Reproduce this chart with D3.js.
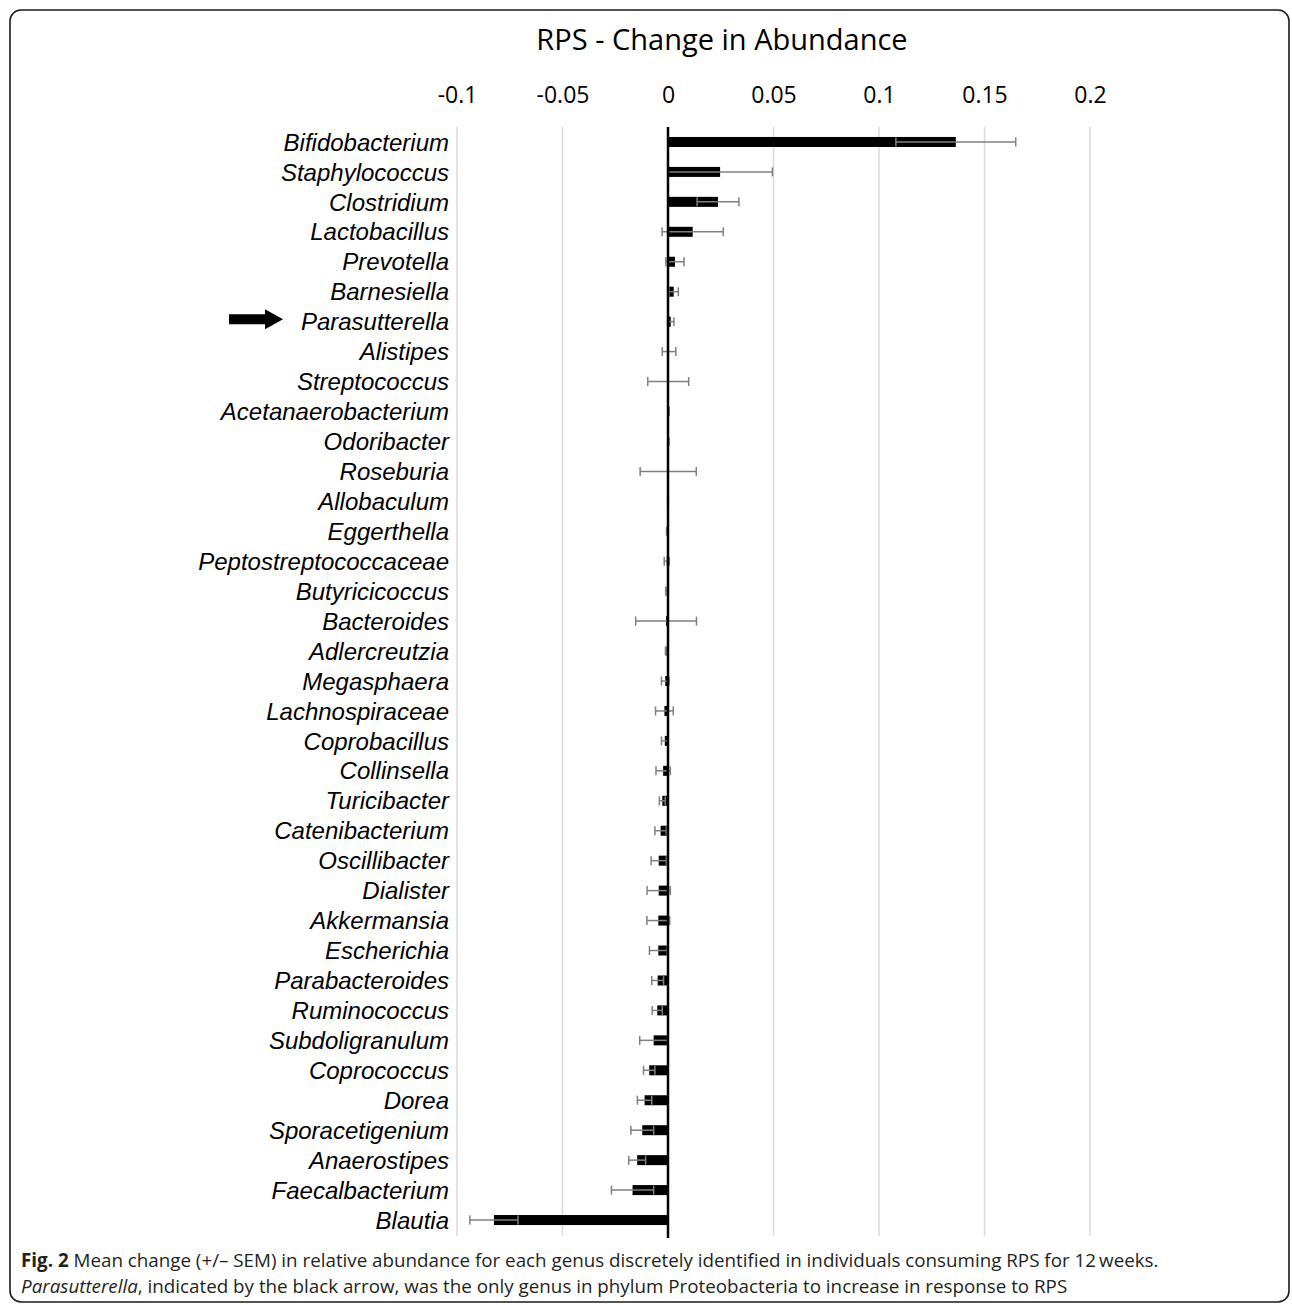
<!DOCTYPE html>
<html>
<head>
<meta charset="utf-8">
<script src="https://cdn.jsdelivr.net/npm/d3@7"></script>
<style>
  html, body { margin: 0; padding: 0; background: #fff; }
  svg { display: block; }
</style>
</head>
<body>
<script>
const genera = ["Bifidobacterium","Staphylococcus","Clostridium","Lactobacillus","Prevotella","Barnesiella","Parasutterella","Alistipes","Streptococcus","Acetanaerobacterium","Odoribacter","Roseburia","Allobaculum","Eggerthella","Peptostreptococcaceae","Butyricicoccus","Bacteroides","Adlercreutzia","Megasphaera","Lachnospiraceae","Coprobacillus","Collinsella","Turicibacter","Catenibacterium","Oscillibacter","Dialister","Akkermansia","Escherichia","Parabacteroides","Ruminococcus","Subdoligranulum","Coprococcus","Dorea","Sporacetigenium","Anaerostipes","Faecalbacterium","Blautia"];
const meanChange = [0.1364,0.0247,0.0237,0.0117,0.0033,0.0027,0.0013,0.0005,0.0001,0.0003,0.0002,0.0001,0.0000,-0.0003,-0.0006,-0.0006,-0.0009,-0.0007,-0.0013,-0.0017,-0.0015,-0.0023,-0.0027,-0.0035,-0.0044,-0.0044,-0.0046,-0.0046,-0.0049,-0.0051,-0.0068,-0.0089,-0.0111,-0.0122,-0.0146,-0.0168,-0.0825];
const sem = [0.0284,0.0248,0.0099,0.0145,0.0043,0.0022,0.0015,0.0032,0.0097,0.0003,0.0003,0.0133,0.0002,0.0004,0.0012,0.0005,0.0144,0.0005,0.0018,0.0042,0.0016,0.0034,0.0014,0.0027,0.0036,0.0055,0.0054,0.0042,0.0028,0.0024,0.0066,0.0027,0.0034,0.0054,0.0040,0.0100,0.0114];
const tickValues = [-0.1,-0.05,0,0.05,0.1,0.15,0.2];
const tickLabels = ["-0.1","-0.05","0","0.05","0.1","0.15","0.2"];
const chartTitle = "RPS - Change in Abundance";
const highlighted = "Parasutterella";

const W = 1292, H = 1305;
const svg = d3.select("body").append("svg").attr("width", W).attr("height", H);

// frame
svg.append("rect").attr("x", 10).attr("y", 10).attr("width", 1279).attr("height", 1292)
  .attr("rx", 11).attr("ry", 11).attr("fill", "none").attr("stroke", "#1a1a1a").attr("stroke-width", 1.6);

const x = d3.scaleLinear().domain([-0.1, 0.2]).range([457, 1090]);
const y = d3.scalePoint().domain(genera).range([127, 1235]).padding(0.5);
const barH = 10;

// gridlines
svg.append("g").selectAll("line").data(tickValues.filter(v => v !== 0)).join("line")
  .attr("x1", d => x(d)).attr("x2", d => x(d)).attr("y1", 127).attr("y2", 1236)
  .attr("stroke", "#d9d9d9").attr("stroke-width", 1.5);

// title
svg.append("text").attr("x", 722).attr("y", 50).attr("text-anchor", "middle")
  .attr("font-family", "'Open Sans', sans-serif").attr("font-size", 29).attr("fill", "#000")
  .text(chartTitle);

// top axis tick labels
const axis = d3.axisTop(x).tickValues(tickValues).tickSize(0).tickPadding(0)
  .tickFormat((d, i) => tickLabels[i]);
const ag = svg.append("g").attr("transform", "translate(0,103)").call(axis);
ag.select(".domain").remove();
ag.selectAll("text").attr("font-family", "'Open Sans', sans-serif").attr("font-size", 23).attr("fill", "#000");

// bars
const data = genera.map((g, i) => ({ g, m: meanChange[i], s: sem[i] }));
svg.append("g").selectAll("rect").data(data).join("rect")
  .attr("x", d => Math.min(x(0), x(d.m)))
  .attr("width", d => Math.abs(x(d.m) - x(0)))
  .attr("y", d => y(d.g) - barH / 2).attr("height", barH)
  .attr("fill", "#000");

// error bars
const eb = svg.append("g").attr("stroke", "#7f7f7f").attr("stroke-width", 1.5);
eb.selectAll("line.h").data(data).join("line").attr("class", "h")
  .attr("x1", d => x(d.m - d.s)).attr("x2", d => x(d.m + d.s))
  .attr("y1", d => y(d.g)).attr("y2", d => y(d.g));
eb.selectAll("line.l").data(data).join("line").attr("class", "l")
  .attr("x1", d => x(d.m - d.s)).attr("x2", d => x(d.m - d.s))
  .attr("y1", d => y(d.g) - 4.5).attr("y2", d => y(d.g) + 4.5);
eb.selectAll("line.r").data(data).join("line").attr("class", "r")
  .attr("x1", d => x(d.m + d.s)).attr("x2", d => x(d.m + d.s))
  .attr("y1", d => y(d.g) - 4.5).attr("y2", d => y(d.g) + 4.5);

// zero axis
svg.append("line").attr("x1", x(0)).attr("x2", x(0)).attr("y1", 127).attr("y2", 1238)
  .attr("stroke", "#000").attr("stroke-width", 2.5);

// category labels
svg.append("g").selectAll("text").data(genera).join("text")
  .attr("x", 449).attr("y", d => y(d)).attr("dy", "0.36em")
  .attr("text-anchor", "end")
  .attr("font-family", "'Liberation Sans', Arial, sans-serif").attr("font-style", "italic")
  .attr("font-size", 24).attr("fill", "#000")
  .text(d => d);

// arrow pointing at highlighted genus
const ay = y(highlighted) - 2.5;
const arrow = d3.path();
arrow.moveTo(229, ay - 5); arrow.lineTo(265, ay - 5); arrow.lineTo(265, ay - 10);
arrow.lineTo(283, ay); arrow.lineTo(265, ay + 10); arrow.lineTo(265, ay + 5);
arrow.lineTo(229, ay + 5); arrow.closePath();
svg.append("path").attr("d", arrow.toString()).attr("fill", "#000");

// caption
const cap = svg.append("g").attr("font-family", "'Open Sans', sans-serif").attr("font-size", 18.8).attr("fill", "#231f20");
const l1 = cap.append("text").attr("x", 21).attr("y", 1267);
l1.append("tspan").attr("font-weight", "bold").text("Fig. 2");
l1.append("tspan").text(" Mean change (+/\u2013 SEM) in relative abundance for each genus discretely identified in individuals consuming RPS for 12\u2009weeks.");
const l2 = cap.append("text").attr("x", 21).attr("y", 1293);
l2.append("tspan").attr("font-style", "italic").text("Parasutterella");
l2.append("tspan").text(", indicated by the black arrow, was the only genus in phylum Proteobacteria to increase in response to RPS");
</script>
</body>
</html>
